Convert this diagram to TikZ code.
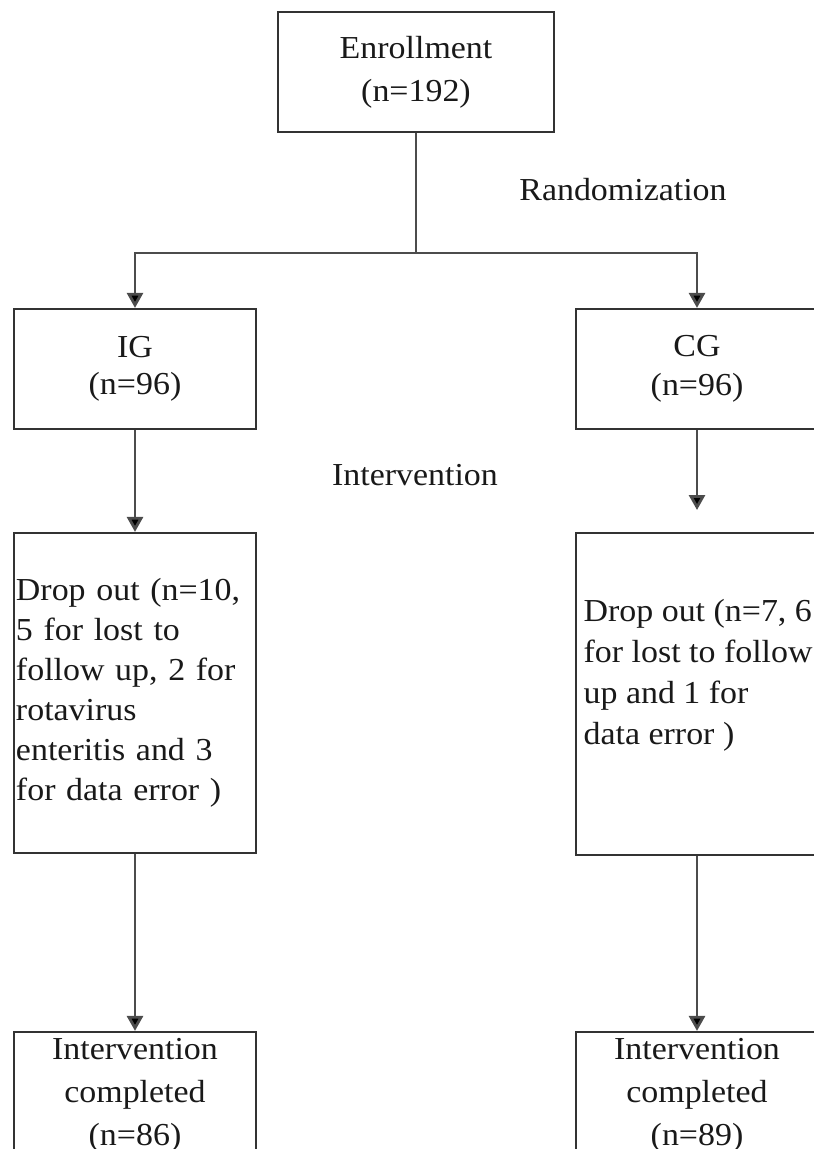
\documentclass[tikz,border=0pt]{standalone}
\usepackage{fontspec}
\setmainfont{Liberation Serif}[FakeStretch=1.06]
\usepackage{tikz}
\usetikzlibrary{arrows.meta}
\usetikzlibrary{positioning}

\begin{document}
\begin{tikzpicture}[x=1pt,y=1pt,-{Triangle[width=16pt,length=15pt,fill=black]},line width=2.8pt,draw=black!70]
	\tikzstyle{every node}=[font=\fontsize{32}{40}\selectfont, text=black!90]
	\tikzstyle{box}=[draw=black!80, line width=2.2pt, rectangle, minimum width=242pt, align=center, inner sep=2pt]
	\tikzstyle{drop}=[box, minimum height=320pt, text width=238pt, align=left]
	\useasboundingbox (0,0) rectangle (814,-1149);

			\node[box, minimum width=276pt, minimum height=120pt, font=\fontsize{32}{43}\selectfont] (enr) at (416,-72) {Enrollment\\(n=192)};
			\node[box, minimum height=120pt, font=\fontsize{32}{37}\selectfont] (ig) at (135,-369) {IG\\(n=96)};
			\node[box, minimum height=120pt, font=\fontsize{32}{39}\selectfont] (cg) at (697,-369) {CG\\(n=96)};
			\node (rand) at (623,-190) {Randomization};
			\node (int) at (415,-475) {Intervention};

			\node[drop] (igdrop) at (135,-693) {Drop out (n=10,\\5 for lost to\\follow up, 2 for\\rotavirus\\enteritis and 3\\for data error )};
			\node[drop, minimum height=322pt] (cgdrop) at (697,-694) {};
			\node[anchor=west, align=left, font=\fontsize{32}{41}\selectfont] (cgtext) at ([xshift=4pt,yshift=19pt]cgdrop.west) {Drop out (n=7, 6\\for lost to follow\\up and 1 for\\data error )};

			\node[box, minimum height=126pt, font=\fontsize{32}{43}\selectfont] (igdone) at (135,-1095) {Intervention\\completed\\(n=86)};
			\node[box, minimum height=126pt, font=\fontsize{32}{43}\selectfont] (cgdone) at (697,-1095) {Intervention\\completed\\(n=89)};

			\coordinate (split) at (416,-253);
			\coordinate (cgtip) at (697,-510);

			\draw[-] (enr) -- (split);
			\draw (split) -| (ig.north);
			\draw (split) -| (cg.north);
			\draw (ig) -- (igdrop);
			\draw (cg) -- (cgtip);
			\draw (igdrop) -- (igdone);
			\draw (cgdrop) -- (cgdone);
\end{tikzpicture}
\end{document}
